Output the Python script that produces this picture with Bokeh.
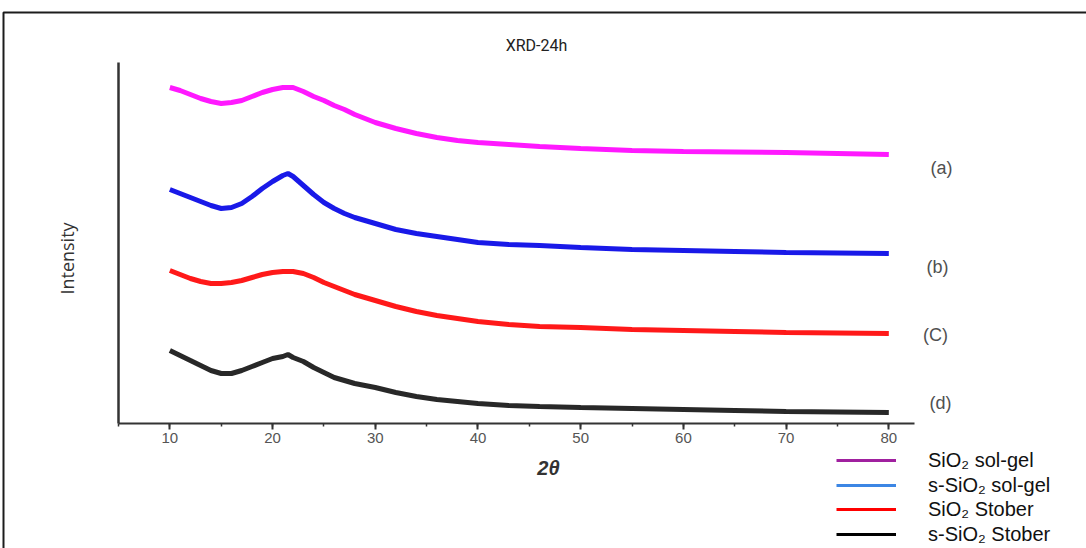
import math
from bokeh.plotting import figure
from bokeh.models import Range1d, Label, Legend, LegendItem, SingleIntervalTicker, FixedTicker
from bokeh.embed import file_html
from bokeh.resources import INLINE

# ---------------- data ----------------
two_theta = [10, 11, 12, 13, 14, 15, 16, 17, 18, 19, 20, 21, 21.5, 22, 23, 24, 25, 26, 27, 28,
             29, 30, 32, 34, 36, 38, 40, 43, 46, 50, 55, 60, 65, 70, 75, 80]

sio2_solgel = [336, 333, 329, 325, 322, 320, 321, 323, 327, 331, 334, 336, 336, 336, 332, 327, 323, 318, 314, 309,
               305, 301, 295, 290, 286, 283, 281, 279, 277, 275, 273, 272, 271.5, 271, 270, 269]
s_sio2_solgel = [234, 230, 226, 222, 218, 215, 216, 220, 227, 235, 242, 248, 250, 247, 238, 229, 221, 215, 210, 206,
                 203, 200, 194, 190, 187, 184, 181, 179, 178, 176, 174, 173, 172, 171, 170.5, 170]
sio2_stober = [153, 149, 145, 142, 140, 140, 141, 143, 146, 149, 151, 152, 152, 152, 150, 146, 141, 137, 133, 129,
               126, 123, 117, 112, 108, 105, 102, 99, 97, 96, 94, 93, 92, 91, 90.5, 90]
s_sio2_stober = [73, 68, 63, 58, 53, 50, 50, 53, 57, 61, 65, 67, 69, 66, 62, 56, 51, 46, 43, 40,
                 38, 36, 31, 27, 24, 22, 20, 18, 17, 16, 15, 14, 13, 12, 11.5, 11]

series = [sio2_solgel, s_sio2_solgel, sio2_stober, s_sio2_stober]
series_labels = ["(a)", "(b)", "(C)", "(d)"]
legend_labels = ["SiO\u2082 sol-gel", "s-SiO\u2082 sol-gel", "SiO\u2082 Stober", "s-SiO\u2082 Stober"]
curve_colors = ["#ff00ff", "#0000e6", "#ff0000", "#111111"]
legend_colors = ["#a0209f", "#3c86e4", "#ff0000", "#000000"]
title_text = "XRD-24h"
x_label = "2\u03b8"
y_label = "Intensity"

# ---------------- layout (page pixels) ----------------
W, H = 1086, 548
FL, FR, FT, FB = 118, 914, 62, 423   # plot frame on the page
XMIN, XMAX = 5, 82.5
YMIN, YMAX = 0, 361
POS = {"position": "absolute", "left": "0px", "top": "0px"}

# ---- background figure: whole canvas is its frame, page-pixel coordinates ----
bg = figure(width=W, height=H, output_backend="svg", toolbar_location=None,
            x_range=Range1d(0, W), y_range=Range1d(H, 0),
            x_axis_type=None, y_axis_type=None, min_border=0)
bg.styles = POS
bg.outline_line_color = None
bg.background_fill_color = "white"
bg.border_fill_color = "white"

# picture frame (top and left edges)
bg.line(x=[3, 3, W], y=[H, 12, 12], line_color="#1c1c1c", line_width=2)

# legend: one single-item legend per row, swatch colours of the original
ITEM_H = 24
legend_rows = [460, 485, 509, 534]
for lab, lc, cy in zip(legend_labels, legend_colors, legend_rows):
    r = bg.line(x=[-50, -40], y=[-50, -50], line_color=lc, line_width=3)
    lg = Legend(items=[LegendItem(label=lab, renderers=[r])], location=(836, H - cy - ITEM_H // 2),
                label_text_font="Liberation Sans", label_text_font_size="20px", label_text_color="#111111",
                glyph_width=60, glyph_height=ITEM_H, label_height=ITEM_H, spacing=0, label_standoff=32,
                padding=0, margin=0, border_line_color=None, background_fill_alpha=0)
    bg.add_layout(lg)

bg.add_layout(Label(x=536, y=45, text=title_text, text_align="center", text_baseline="middle",
                    text_font="Roboto", text_font_size="16px", text_color="#222222"))
bg.add_layout(Label(x=66, y=258, text=y_label, angle=math.pi / 2, text_align="center",
                    text_baseline="middle", text_font="Open Sans", text_font_size="18px", text_color="#333333"))
bg.add_layout(Label(x=548, y=467, text=x_label, text_align="center", text_baseline="middle",
                    text_font="Liberation Sans", text_font_size="20px", text_font_style="bold italic",
                    text_color="#333333"))
label_pos = [(941, 167), (937, 266), (935, 334), (940, 402)]
for lab, (px, py) in zip(series_labels, label_pos):
    bg.add_layout(Label(x=px, y=py, text=lab, text_align="center", text_baseline="middle",
                        text_font="Liberation Sans", text_font_size="18px", text_color="#505050"))

# ---- main figure: axes and curves, transparent, on top ----
p = figure(width=W, height=H, output_backend="svg", toolbar_location=None,
           x_range=Range1d(XMIN, XMAX), y_range=Range1d(YMIN, YMAX),
           min_border_left=FL, min_border_right=W - FR,
           min_border_top=FT, min_border_bottom=H - FB)
p.styles = POS
p.xgrid.visible = False
p.ygrid.visible = False
p.outline_line_color = None
p.background_fill_alpha = 0
p.border_fill_alpha = 0

p.xaxis.ticker = SingleIntervalTicker(interval=10, num_minor_ticks=2)
p.xaxis.axis_line_width = 2
p.xaxis.axis_line_color = "#333333"
p.xaxis.major_tick_line_color = "#333333"
p.xaxis.major_tick_line_width = 2
p.xaxis.minor_tick_line_color = "#333333"
p.xaxis.minor_tick_line_width = 1.5
p.xaxis.major_tick_in = 0
p.xaxis.major_tick_out = 6
p.xaxis.minor_tick_in = 0
p.xaxis.minor_tick_out = 3
p.xaxis.major_label_text_font = "Liberation Sans"
p.xaxis.major_label_text_font_size = "15px"
p.xaxis.major_label_text_color = "#555555"
p.xaxis.major_label_standoff = 3

p.yaxis.ticker = FixedTicker(ticks=[])
p.yaxis.axis_line_width = 2.5
p.yaxis.axis_line_color = "#333333"

for ys, c in zip(series, curve_colors):
    p.line(two_theta, ys, line_color=c, line_width=5, line_alpha=0.9)

open("out.html", "w").write(file_html([bg, p], INLINE))
